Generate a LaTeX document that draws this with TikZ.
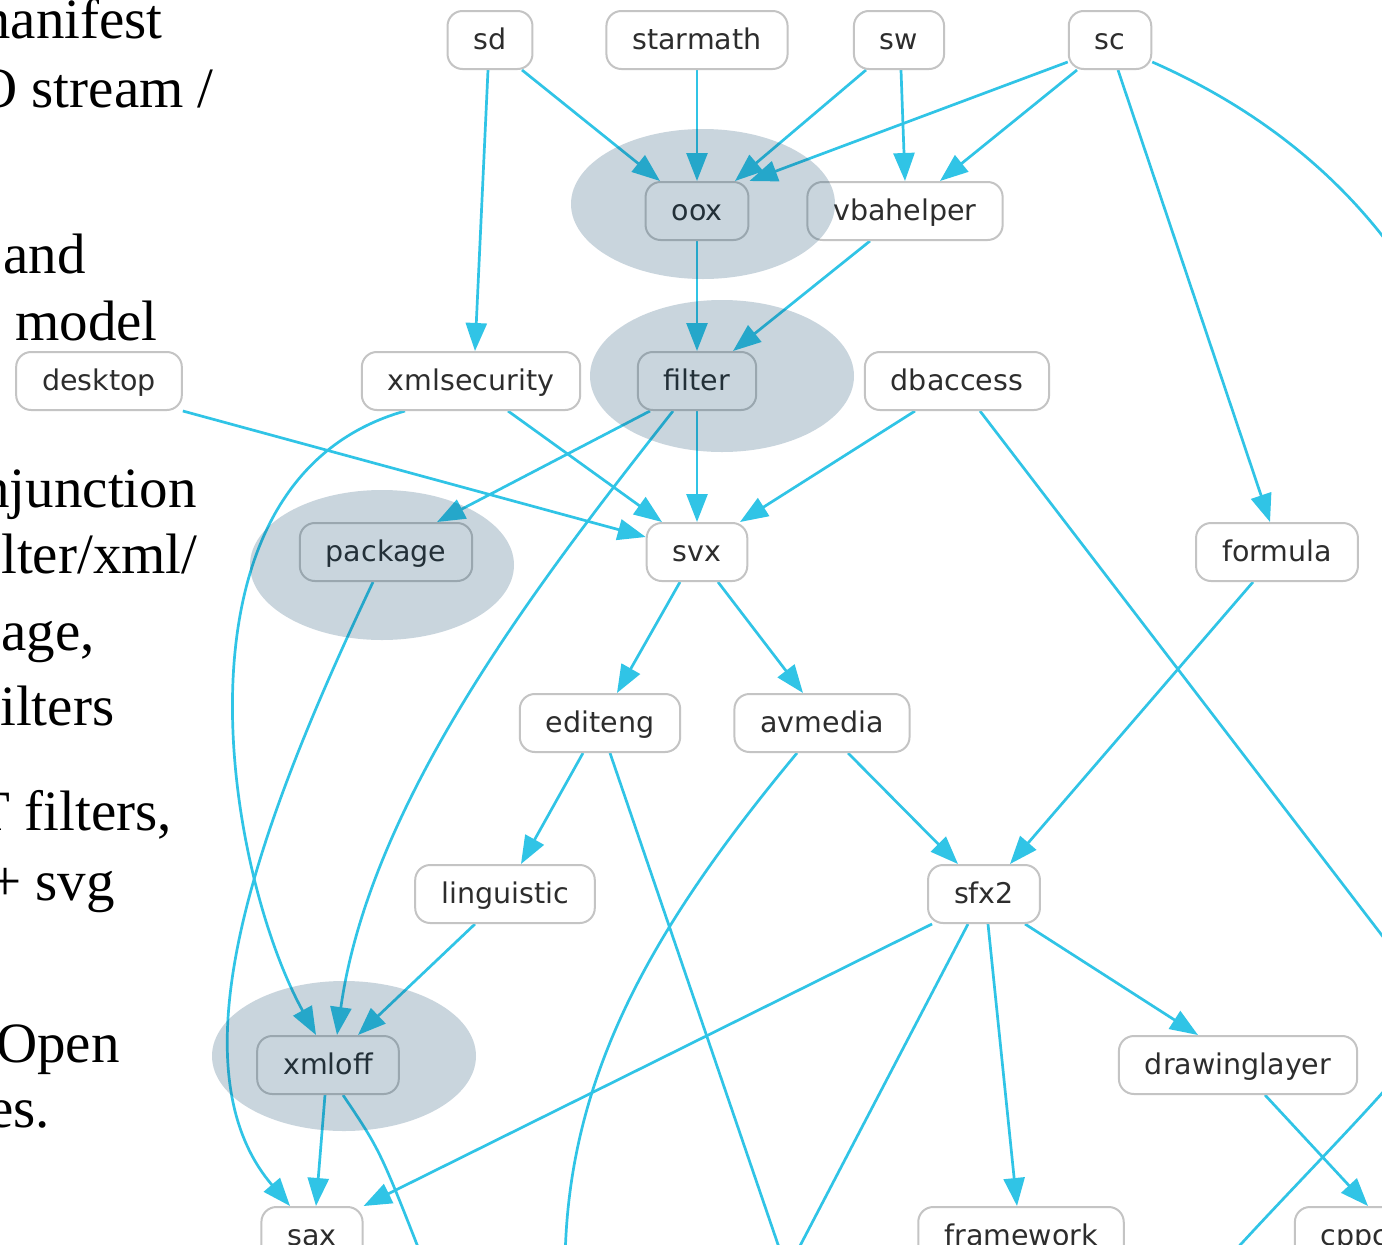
\documentclass[tikz,border=0pt]{standalone}
\usepackage{fontspec}
\setmainfont{Liberation Serif}
\newfontfamily\graphfont{DejaVu Sans}
\usetikzlibrary{arrows.meta}
\definecolor{edgeblue}{RGB}{48,196,230}
\definecolor{boxgray}{RGB}{196,196,196}
\definecolor{labelgray}{RGB}{45,45,45}
\definecolor{haze}{RGB}{0,61,99}
\pgfdeclarelayer{paper}
\pgfdeclarelayer{edges}
\pgfsetlayers{paper,edges,main}

\begin{document}
\begin{tikzpicture}[x=1pt,y=-1pt,
  module/.style={draw=boxgray, line width=2pt, fill=white, rounded corners=15pt,
    minimum height=58pt, inner xsep=26pt, inner ysep=0pt,
    text height=22pt, text depth=4pt,
    font=\graphfont\fontsize{28.5}{30}\selectfont, text=labelgray},
  dep/.style={draw=edgeblue, line width=2.7pt, -{Triangle[length=28pt,width=21pt]}},
  loose/.style={draw=edgeblue, line width=2.7pt},
  focus/.style={fill=haze, fill opacity=0.21, draw=none},
  slide/.style={font=\fontsize{57}{60}\selectfont, inner sep=0pt, anchor=base east},
  slidew/.style={slide, anchor=base west}
]
\useasboundingbox (0,0) rectangle (1382,1245);
\clip (0,0) rectangle (1382,1245);
\begin{pgfonlayer}{paper}
  \fill[white] (0,0) rectangle (1382,1245);
\end{pgfonlayer}

% slide text on the left
\node[slide]  (t1)  at (163,38)   {manifest};
\node[slide]  (t2)  at (214,107)  {O stream /};
\node[slide]  (t3)  at (86,273)   {and};
\node[slide]  (t4)  at (158,340)  {model};
\node[slide]  (t5)  at (197,507)  {conjunction};
\node[slidew] (t6)  at (1,573)    {lter/xml/};
\node[slidew] (t7)  at (1,650)    {age,};
\node[slidew] (t8)  at (0,725)    {ilters};
\node[slide]  (t9)  at (172,830)  {T filters,};
\node[slide]  (t10) at (115,900)  {+ svg};
\node[slide]  (t11) at (120,1062) {Open};
\node[slide]  (t12) at (50,1127)  {es.};

% modules
\node[module] (sd)           at (490,40)   {sd};
\node[module] (starmath)     at (697,40)   {starmath};
\node[module] (sw)           at (899,40)   {sw};
\node[module] (sc)           at (1110,40)  {sc};
\node[module] (oox)          at (697,211)  {oox};
\node[module] (vbahelper)    at (905,211)  {vbahelper};
\node[module] (desktop)      at (99,381)   {desktop};
\node[module] (xmlsecurity)  at (471,381)  {xmlsecurity};
\node[module] (filter)       at (697,381)  {filter};
\node[module] (dbaccess)     at (957,381)  {dbaccess};
\node[module] (package)      at (386,552)  {package};
\node[module] (svx)          at (697,552)  {svx};
\node[module] (formula)      at (1277,552) {formula};
\node[module] (editeng)      at (600,723)  {editeng};
\node[module] (avmedia)      at (822,723)  {avmedia};
\node[module] (linguistic)   at (505,894)  {linguistic};
\node[module] (sfx2)         at (984,894)  {sfx2};
\node[module] (xmloff)       at (328,1065) {xmloff};
\node[module] (drawinglayer) at (1238,1065){drawinglayer};
\node[module] (sax)          at (312,1236) {sax};
\node[module] (framework)    at (1021,1236){framework};
\node[module] (cppcanvas)    at (1397,1236){cppcanvas};

% loose ends leaving the visible area
\coordinate (scOut)   at (1420,290);
\coordinate (dbOut)   at (1420,985);
\coordinate (edOut)   at (785,1265);
\coordinate (avOut)   at (565,1270);
\coordinate (sfxOut)  at (790,1265);
\coordinate (xmlOut)  at (425,1265);
\coordinate (rIn)     at (1410,1060);
\coordinate (rOut)    at (1222,1265);

\begin{pgfonlayer}{edges}
  \draw[dep] ([xshift=32pt]sd.south) -- ([xshift=-37pt]oox.north);
  \draw[dep] (starmath.south) -- (oox.north);
  \draw[dep] ([xshift=-33pt]sw.south) -- ([xshift=38pt]oox.north);
  \draw[dep] ([yshift=-22pt]sc.west) -- (oox.north east);
  \draw[dep] ([xshift=2pt]sw.south) -- (vbahelper.north);
  \draw[dep] ([xshift=-33pt]sc.south) -- ([xshift=35pt]vbahelper.north);
  \draw[dep] ([xshift=-2pt]sd.south) -- ([xshift=4pt]xmlsecurity.north);
  \draw[dep] (oox.south) -- (filter.north);
  \draw[dep] ([xshift=-35pt]vbahelper.south) -- ([xshift=36pt]filter.north);
  \draw[dep] ([xshift=8pt]sc.south) -- ([xshift=-7pt]formula.north);
  \draw[loose] ([yshift=-22pt]sc.east) .. controls (1250,105) and (1350,175) .. (scOut);

  \draw[dep] (desktop.south east) -- ([yshift=15pt]svx.west);
  \draw[dep] ([xshift=37pt]xmlsecurity.south) -- ([xshift=-35pt]svx.north);
  \draw[dep] ([xshift=-66pt]xmlsecurity.south) .. controls (160,480) and (225,870) .. ([xshift=-12pt]xmloff.north);
  \draw[dep] ([xshift=-47pt]filter.south) -- ([xshift=51pt]package.north);
  \draw[dep] ([xshift=-24pt]filter.south) .. controls (540,580) and (370,800) .. ([xshift=9pt]xmloff.north);
  \draw[dep] (filter.south) -- (svx.north);
  \draw[dep] ([xshift=-42pt]dbaccess.south) -- ([xshift=43pt]svx.north);
  \draw[loose] ([xshift=23pt]dbaccess.south) -- (dbOut);

  \draw[dep] ([xshift=-13pt]package.south) .. controls (270,800) and (165,1060) .. ([xshift=-22pt]sax.north);

  \draw[dep] ([xshift=-17pt]svx.south) -- ([xshift=17pt]editeng.north);
  \draw[dep] ([xshift=21pt]svx.south) -- ([xshift=-19pt]avmedia.north);
  \draw[dep] ([xshift=-24pt]formula.south) -- ([xshift=26pt]sfx2.north);

  \draw[dep] ([xshift=-17pt]editeng.south) -- ([xshift=16pt]linguistic.north);
  \draw[loose] ([xshift=10pt]editeng.south) -- (edOut);
  \draw[loose] ([xshift=-25pt]avmedia.south) .. controls (650,930) and (565,1080) .. (avOut);
  \draw[dep] ([xshift=26pt]avmedia.south) -- ([xshift=-26pt]sfx2.north);

  \draw[dep] ([xshift=-30pt]linguistic.south) -- ([xshift=30pt]xmloff.north);
  \draw[dep] ([xshift=-52pt]sfx2.south) -- (sax.north east);
  \draw[loose] ([xshift=-16pt]sfx2.south) -- (sfxOut);
  \draw[dep] ([xshift=4pt]sfx2.south) -- ([xshift=-4pt]framework.north);
  \draw[dep] ([xshift=41pt]sfx2.south) -- ([xshift=-40pt]drawinglayer.north);

  \draw[dep] ([xshift=-3pt]xmloff.south) -- ([xshift=4pt]sax.north);
  \draw[loose] ([xshift=15pt]xmloff.south) .. controls (380,1150) .. (xmlOut);
  \draw[dep] ([xshift=27pt]drawinglayer.south) -- ([xshift=-29pt]cppcanvas.north);
  \draw[loose] (rIn) .. controls (1380,1100) and (1280,1200) .. (rOut);
\end{pgfonlayer}

% highlighted modules
\fill[focus] (703,204)  ellipse [x radius=132, y radius=75];
\fill[focus] (722,376)  ellipse [x radius=132, y radius=76];
\fill[focus] (382,565)  ellipse [x radius=132, y radius=75];
\fill[focus] (344,1056) ellipse [x radius=132, y radius=75];
\end{tikzpicture}
\end{document}
